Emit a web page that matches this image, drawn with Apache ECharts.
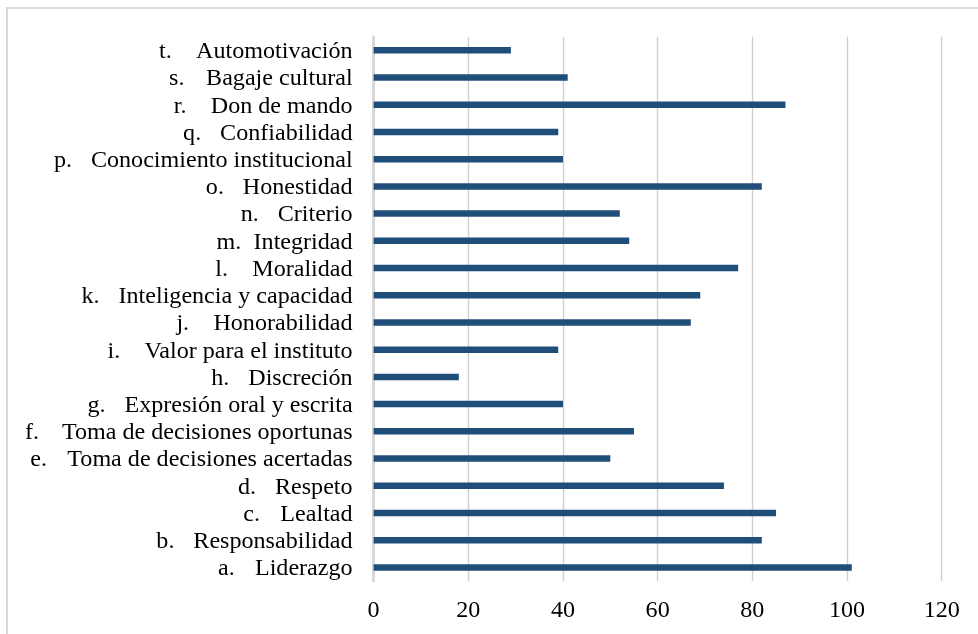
<!DOCTYPE html>
<html>
<head>
<meta charset="utf-8">
<script src="https://cdn.jsdelivr.net/npm/echarts@6/dist/echarts.min.js"></script>
<style>
  html, body { margin: 0; padding: 0; background: #fff; }
  #chart { width: 978px; height: 634px; }
</style>
</head>
<body>
<div id="chart"></div>
<script>
// List markers and attribute names, from bottom (a) to top (t)
const markers = ['a.', 'b.', 'c.', 'd.', 'e.', 'f.', 'g.', 'h.', 'i.', 'j.',
                 'k.', 'l.', 'm.', 'n.', 'o.', 'p.', 'q.', 'r.', 's.', 't.'];
const attributes = [
  'Liderazgo', 'Responsabilidad', 'Lealtad', 'Respeto',
  'Toma de decisiones acertadas', 'Toma de decisiones oportunas',
  'Expresión oral y escrita', 'Discreción', 'Valor para el instituto',
  'Honorabilidad', 'Inteligencia y capacidad', 'Moralidad', 'Integridad',
  'Criterio', 'Honestidad', 'Conocimiento institucional', 'Confiabilidad',
  'Don de mando', 'Bagaje cultural', 'Automotivación'
];
const values = [101, 82, 85, 74, 50, 55, 40, 18, 39, 67,
                69, 77, 54, 52, 82, 40, 39, 87, 41, 29];
const xTicks = { min: 0, max: 120, interval: 20 };

const categories = markers.map((m, i) => m + '|' + attributes[i]);

const chart = echarts.init(document.getElementById('chart'), null, { renderer: 'canvas' });
const serif = '"Liberation Serif", "Times New Roman", serif';
const fs = 24.1;

chart.setOption({
  animation: false,
  backgroundColor: '#ffffff',
  graphic: [{
    type: 'rect',
    shape: { x: 7, y: 8, width: 990, height: 650 },
    style: { fill: 'none', stroke: '#d9d9d9', lineWidth: 2 },
    silent: true,
    z: -1
  }],
  grid: { left: 373.6, right: 36.3, top: 36.7, bottom: 53, containLabel: false },
  xAxis: {
    type: 'value',
    min: xTicks.min, max: xTicks.max, interval: xTicks.interval,
    axisLine: { show: false },
    axisTick: { show: false },
    splitLine: { show: true, lineStyle: { color: '#d0d0d0', width: 1.4 } },
    axisLabel: { color: '#000', fontFamily: serif, fontSize: fs, margin: 18 }
  },
  yAxis: {
    type: 'category',
    data: categories,
    axisTick: { show: false },
    axisLine: { show: true, lineStyle: { color: '#d9d9d9', width: 3 } },
    axisLabel: {
      margin: 21,
      align: 'right',
      formatter: v => {
        const [m, n] = v.split('|');
        return '{m|' + m + '}{n|' + n + '}';
      },
      rich: {
        m: { width: 37, align: 'left', color: '#000', fontFamily: serif, fontSize: fs, padding: [3, 0, 0, 0] },
        n: { color: '#000', fontFamily: serif, fontSize: fs, padding: [3, 0, 0, 0] }
      }
    }
  },
  series: [{
    type: 'bar',
    data: values,
    barWidth: 6.5,
    itemStyle: { color: '#1f4e79' }
  }]
});
</script>
</body>
</html>
